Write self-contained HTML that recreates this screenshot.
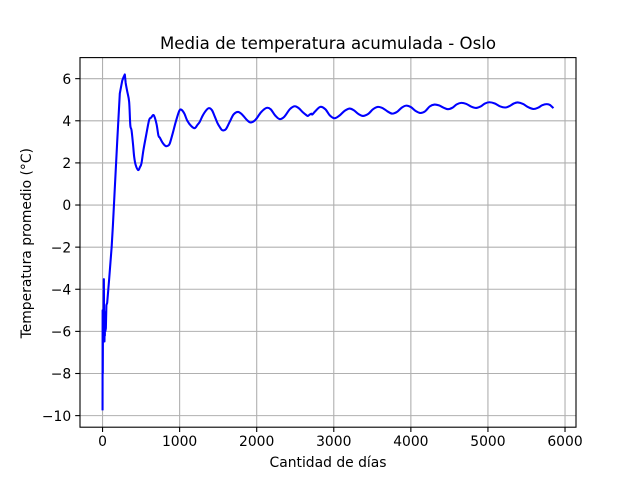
<!DOCTYPE html>
<html lang="es">
<head>
<meta charset="utf-8">
<title>Media de temperatura acumulada - Oslo</title>
<style>
html,body{margin:0;padding:0;background:#fff;width:640px;height:480px;overflow:hidden}
svg{display:block}
text{font-family:"DejaVu Sans","Liberation Sans",sans-serif;fill:#000}
</style>
</head>
<body>
<svg id="chart" width="640" height="480" viewBox="0 0 640 480" xmlns="http://www.w3.org/2000/svg">
<rect x="0" y="0" width="640" height="480" fill="#fff"/>
<g id="grid"></g>
<path id="series" fill="none" stroke="#0000ff" stroke-width="2.08" stroke-linejoin="round" stroke-linecap="butt"/>
<rect x="80" y="57.6" width="496" height="369.6" fill="none" stroke="#000" stroke-width="1.1"/>
<g id="ticks"></g>
<text x="328" y="49" text-anchor="middle" font-size="16.6">Media de temperatura acumulada - Oslo</text>
<text x="328" y="467" text-anchor="middle" font-size="13.89">Cantidad de días</text>
<text x="0" y="0" transform="translate(31 243.2) rotate(-90)" text-anchor="middle" font-size="13.89">Temperatura promedio (°C)</text>
</svg>
<script>
const xTicks = [0, 1000, 2000, 3000, 4000, 5000, 6000];
const yTicks = [-10, -8, -6, -4, -2, 0, 2, 4, 6];
const days = [0,1,3,6,8,10,12,17,20,25,28,30,33,36,43,50,60,85,118,134,159,190,224,255,270,289,300,320,345,360,376,395,410,430,462,485,505,530,565,604,630,665,700,725,743,780,820,850,872,910,950,993,1020,1060,1100,1150,1196,1230,1261,1300,1345,1382,1420,1456,1490,1525,1555,1600,1650,1700,1758,1810,1870,1922,1985,2055,2125,2180,2240,2298,2360,2430,2493,2545,2600,2644,2665,2690,2709,2722,2760,2825,2890,2950,3011,3075,3140,3205,3260,3320,3378,3445,3510,3572,3635,3695,3758,3820,3880,3940,4000,4060,4122,4185,4245,4307,4365,4425,4480,4540,4595,4653,4720,4785,4847,4905,4960,5020,5090,5160,5227,5280,5335,5387,5455,5520,5590,5650,5705,5763,5810,5850];
const temps = [-9.75,-5,-8,-5,-6.3,-5.1,-5.2,-3.52,-5.5,-6.48,-5.2,-6.2,-5.1,-6,-5.85,-4.75,-4.65,-3.55,-2,-1,0.8,3,5.3,5.9,6.05,6.2,5.8,5.4,4.9,3.8,3.55,2.9,2.3,1.9,1.66,1.8,1.98,2.6,3.3,4.03,4.15,4.26,3.85,3.3,3.2,2.95,2.8,2.82,2.92,3.4,3.95,4.45,4.53,4.35,4,3.75,3.65,3.8,3.95,4.25,4.5,4.6,4.5,4.2,3.9,3.68,3.55,3.6,3.95,4.3,4.42,4.3,4.05,3.92,4.05,4.4,4.61,4.55,4.25,4.08,4.2,4.55,4.69,4.6,4.4,4.27,4.23,4.3,4.34,4.3,4.45,4.66,4.55,4.25,4.12,4.25,4.47,4.58,4.5,4.32,4.23,4.32,4.55,4.66,4.6,4.45,4.34,4.42,4.62,4.72,4.65,4.47,4.37,4.45,4.68,4.77,4.73,4.62,4.55,4.62,4.78,4.85,4.8,4.67,4.61,4.68,4.82,4.88,4.82,4.68,4.63,4.7,4.82,4.87,4.8,4.65,4.56,4.62,4.74,4.79,4.74,4.6];

function xScale(d) { return 80 + (d + 292.5) * 496 / 6435; }
function yScale(t) { return 427.2 - (t + 10.55) * 369.6 / 17.55; }

const NS = 'http://www.w3.org/2000/svg';
const gridG = document.getElementById('grid');
const tickG = document.getElementById('ticks');

function mk(tag, attrs, parent) {
  const el = document.createElementNS(NS, tag);
  for (const k in attrs) el.setAttribute(k, attrs[k]);
  parent.appendChild(el);
  return el;
}
function fmt(v) { return v < 0 ? '\u2212' + Math.abs(v) : String(v); }

xTicks.forEach(function (v) {
  const x = xScale(v);
  const g = mk('line', {x1: x, x2: x, y1: 57.6, y2: 427.2, stroke: '#b0b0b0', 'stroke-width': 1.1}, gridG);
  
  
  const t = mk('line', {x1: x, x2: x, y1: 427.2, y2: 432, stroke: '#000', 'stroke-width': 1.1}, tickG);
  
  
  const l = mk('text', {x: x, y: 446, 'text-anchor': 'middle', 'font-size': 13.89}, tickG);
  
  
  l.textContent = fmt(v);
});

yTicks.forEach(function (v) {
  const y = yScale(v);
  const g = mk('line', {x1: 80, x2: 576, y1: y, y2: y, stroke: '#b0b0b0', 'stroke-width': 1.1}, gridG);
  
  
  const t = mk('line', {x1: 75.2, x2: 80, y1: y, y2: y, stroke: '#000', 'stroke-width': 1.1}, tickG);
  
  
  const l = mk('text', {x: 71.2, y: y + 5.2, 'text-anchor': 'end', 'font-size': 13.89}, tickG);
  
  
  l.textContent = fmt(v);
});

/* Straight segments through the noisy start, smooth curve through the settled part. */
const pts = days.map(function (d, i) { return [xScale(d), yScale(temps[i])]; });
let pathD = 'M' + pts[0][0].toFixed(2) + ' ' + pts[0][1].toFixed(2);
for (let i = 1; i < pts.length; i++) {
  const p1 = pts[i - 1], p2 = pts[i];
  if (days[i] <= 300 || i + 1 >= pts.length) {
    pathD += ' L' + p2[0].toFixed(2) + ' ' + p2[1].toFixed(2);
  } else {
    const p0 = pts[i - 2], p3 = pts[i + 1];
    const c1x = p1[0] + (p2[0] - p0[0]) / 6, c1y = p1[1] + (p2[1] - p0[1]) / 6;
    const c2x = p2[0] - (p3[0] - p1[0]) / 6, c2y = p2[1] - (p3[1] - p1[1]) / 6;
    pathD += ' C' + c1x.toFixed(2) + ' ' + c1y.toFixed(2) + ' ' + c2x.toFixed(2) + ' ' + c2y.toFixed(2) + ' ' + p2[0].toFixed(2) + ' ' + p2[1].toFixed(2);
  }
}
document.getElementById('series').setAttribute('d', pathD);
</script>
</body>
</html>
